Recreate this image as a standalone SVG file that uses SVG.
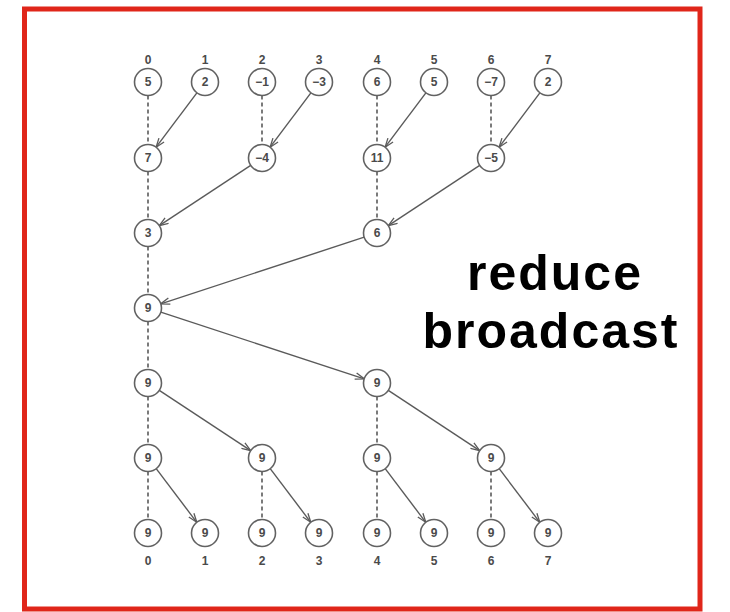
<svg xmlns="http://www.w3.org/2000/svg" width="730" height="612" viewBox="0 0 730 612">
  <style>
    .node circle { fill: #ffffff; stroke: #626262; stroke-width: 1.6; }
    .node text, .idx { font-family: "Liberation Sans", Arial, sans-serif; font-size: 12px; font-weight: bold; fill: #4a4a4a; text-anchor: middle; }
    .dash { stroke: #5a5a5a; stroke-width: 1.6; stroke-dasharray: 4 3; fill: none; }
    .arrow { stroke: #5a5a5a; stroke-width: 1.4; fill: none; marker-end: url(#head); }
    .title { font-family: "Liberation Sans", Arial, sans-serif; font-size: 50px; font-weight: bold; fill: #000000; text-anchor: middle; letter-spacing: 2px; }
  </style>
  <defs>
    <marker id="head" viewBox="0 0 10 8" refX="9.5" refY="4" markerWidth="10" markerHeight="8" markerUnits="userSpaceOnUse" orient="auto">
      <path d="M0.5,0.8 L9.5,4 L0.5,7.2" fill="none" stroke="#5a5a5a" stroke-width="1.3"/>
    </marker>
  </defs>

  <rect x="0" y="0" width="730" height="612" fill="#ffffff"/>
  <!-- frame -->
  <rect x="24.5" y="9" width="675.5" height="600" fill="none" stroke="#e0261a" stroke-width="5"/>

  <!-- rank labels -->
  <g id="rank-labels">
    <text class="idx" x="148" y="64">0</text>
    <text class="idx" x="205" y="64">1</text>
    <text class="idx" x="262" y="64">2</text>
    <text class="idx" x="319" y="64">3</text>
    <text class="idx" x="377" y="64">4</text>
    <text class="idx" x="434" y="64">5</text>
    <text class="idx" x="491" y="64">6</text>
    <text class="idx" x="548" y="64">7</text>
    <text class="idx" x="148" y="565">0</text>
    <text class="idx" x="205" y="565">1</text>
    <text class="idx" x="262" y="565">2</text>
    <text class="idx" x="319" y="565">3</text>
    <text class="idx" x="377" y="565">4</text>
    <text class="idx" x="434" y="565">5</text>
    <text class="idx" x="491" y="565">6</text>
    <text class="idx" x="548" y="565">7</text>
  </g>

  <!-- connectors -->
  <g id="connectors">
    <!-- step 1 -->
    <line class="dash" x1="148" y1="95.5" x2="148" y2="144.5"/>
    <line class="dash" x1="262" y1="95.5" x2="262" y2="144.5"/>
    <line class="dash" x1="377" y1="95.5" x2="377" y2="144.5"/>
    <line class="dash" x1="491" y1="95.5" x2="491" y2="144.5"/>
    <line class="arrow" x1="196.9" y1="92.8" x2="156.1" y2="147.2"/>
    <line class="arrow" x1="310.9" y1="92.8" x2="270.1" y2="147.2"/>
    <line class="arrow" x1="425.9" y1="92.8" x2="385.1" y2="147.2"/>
    <line class="arrow" x1="539.9" y1="92.8" x2="499.1" y2="147.2"/>
    <!-- step 2 -->
    <line class="dash" x1="148" y1="171.5" x2="148" y2="219.5"/>
    <line class="dash" x1="377" y1="171.5" x2="377" y2="219.5"/>
    <line class="arrow" x1="250.7" y1="165.4" x2="159.3" y2="225.6"/>
    <line class="arrow" x1="479.7" y1="165.4" x2="388.3" y2="225.6"/>
    <!-- step 3 -->
    <line class="dash" x1="148" y1="246.5" x2="148" y2="294.5"/>
    <line class="arrow" x1="364.2" y1="237.2" x2="160.8" y2="303.8"/>
    <!-- broadcast 1 -->
    <line class="dash" x1="148" y1="321.5" x2="148" y2="369.5"/>
    <line class="arrow" x1="160.8" y1="312.2" x2="364.2" y2="378.8"/>
    <!-- broadcast 2 -->
    <line class="dash" x1="148" y1="396.5" x2="148" y2="444.5"/>
    <line class="dash" x1="377" y1="396.5" x2="377" y2="444.5"/>
    <line class="arrow" x1="159.3" y1="390.4" x2="250.7" y2="450.6"/>
    <line class="arrow" x1="388.3" y1="390.4" x2="479.7" y2="450.6"/>
    <!-- broadcast 3 -->
    <line class="dash" x1="148" y1="471.5" x2="148" y2="519.5"/>
    <line class="dash" x1="262" y1="471.5" x2="262" y2="519.5"/>
    <line class="dash" x1="377" y1="471.5" x2="377" y2="519.5"/>
    <line class="dash" x1="491" y1="471.5" x2="491" y2="519.5"/>
    <line class="arrow" x1="156.2" y1="468.7" x2="196.8" y2="522.3"/>
    <line class="arrow" x1="270.2" y1="468.7" x2="310.8" y2="522.3"/>
    <line class="arrow" x1="385.2" y1="468.7" x2="425.8" y2="522.3"/>
    <line class="arrow" x1="499.2" y1="468.7" x2="539.8" y2="522.3"/>
  </g>

  <!-- row 0 -->
  <g id="n0-0" class="node"><circle cx="148" cy="82" r="13.5"/><text x="148" y="86.3">5</text></g>
  <g id="n0-1" class="node"><circle cx="205" cy="82" r="13.5"/><text x="205" y="86.3">2</text></g>
  <g id="n0-2" class="node"><circle cx="262" cy="82" r="13.5"/><text x="262" y="86.3">−1</text></g>
  <g id="n0-3" class="node"><circle cx="319" cy="82" r="13.5"/><text x="319" y="86.3">−3</text></g>
  <g id="n0-4" class="node"><circle cx="377" cy="82" r="13.5"/><text x="377" y="86.3">6</text></g>
  <g id="n0-5" class="node"><circle cx="434" cy="82" r="13.5"/><text x="434" y="86.3">5</text></g>
  <g id="n0-6" class="node"><circle cx="491" cy="82" r="13.5"/><text x="491" y="86.3">−7</text></g>
  <g id="n0-7" class="node"><circle cx="548" cy="82" r="13.5"/><text x="548" y="86.3">2</text></g>
  <!-- row 1 -->
  <g id="n1-0" class="node"><circle cx="148" cy="158" r="13.5"/><text x="148" y="162.3">7</text></g>
  <g id="n1-2" class="node"><circle cx="262" cy="158" r="13.5"/><text x="262" y="162.3">−4</text></g>
  <g id="n1-4" class="node"><circle cx="377" cy="158" r="13.5"/><text x="377" y="162.3">11</text></g>
  <g id="n1-6" class="node"><circle cx="491" cy="158" r="13.5"/><text x="491" y="162.3">−5</text></g>
  <!-- row 2 -->
  <g id="n2-0" class="node"><circle cx="148" cy="233" r="13.5"/><text x="148" y="237.3">3</text></g>
  <g id="n2-4" class="node"><circle cx="377" cy="233" r="13.5"/><text x="377" y="237.3">6</text></g>
  <!-- row 3 -->
  <g id="n3-0" class="node"><circle cx="148" cy="308" r="13.5"/><text x="148" y="312.3">9</text></g>
  <!-- row 4 -->
  <g id="n4-0" class="node"><circle cx="148" cy="383" r="13.5"/><text x="148" y="387.3">9</text></g>
  <g id="n4-4" class="node"><circle cx="377" cy="383" r="13.5"/><text x="377" y="387.3">9</text></g>
  <!-- row 5 -->
  <g id="n5-0" class="node"><circle cx="148" cy="458" r="13.5"/><text x="148" y="462.3">9</text></g>
  <g id="n5-2" class="node"><circle cx="262" cy="458" r="13.5"/><text x="262" y="462.3">9</text></g>
  <g id="n5-4" class="node"><circle cx="377" cy="458" r="13.5"/><text x="377" y="462.3">9</text></g>
  <g id="n5-6" class="node"><circle cx="491" cy="458" r="13.5"/><text x="491" y="462.3">9</text></g>
  <!-- row 6 -->
  <g id="n6-0" class="node"><circle cx="148" cy="533" r="13.5"/><text x="148" y="537.3">9</text></g>
  <g id="n6-1" class="node"><circle cx="205" cy="533" r="13.5"/><text x="205" y="537.3">9</text></g>
  <g id="n6-2" class="node"><circle cx="262" cy="533" r="13.5"/><text x="262" y="537.3">9</text></g>
  <g id="n6-3" class="node"><circle cx="319" cy="533" r="13.5"/><text x="319" y="537.3">9</text></g>
  <g id="n6-4" class="node"><circle cx="377" cy="533" r="13.5"/><text x="377" y="537.3">9</text></g>
  <g id="n6-5" class="node"><circle cx="434" cy="533" r="13.5"/><text x="434" y="537.3">9</text></g>
  <g id="n6-6" class="node"><circle cx="491" cy="533" r="13.5"/><text x="491" y="537.3">9</text></g>
  <g id="n6-7" class="node"><circle cx="548" cy="533" r="13.5"/><text x="548" y="537.3">9</text></g>

  <!-- caption -->
  <g id="caption">
    <text class="title" x="555" y="290">reduce</text>
    <text class="title" x="551" y="348">broadcast</text>
  </g>
</svg>
